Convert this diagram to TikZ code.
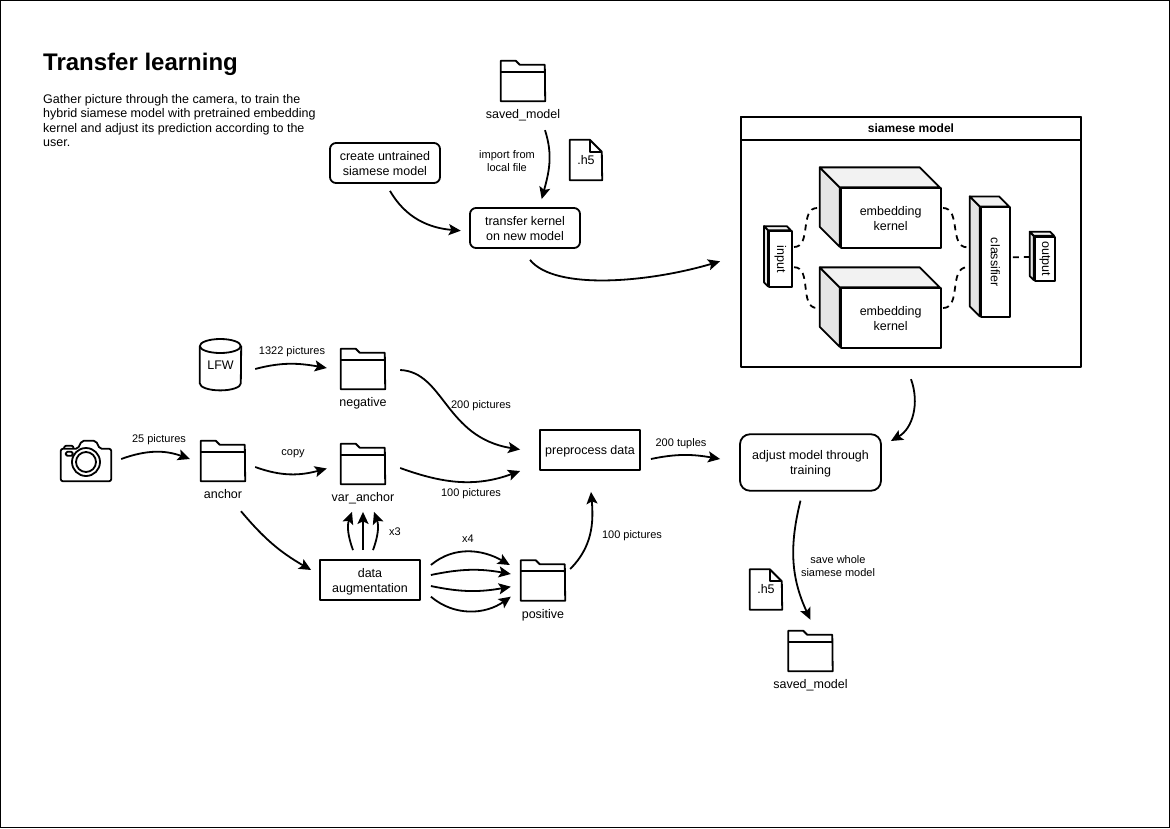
\documentclass[tikz,border=0pt]{standalone}
\usepackage{fontspec}
\setmainfont{Liberation Sans}
\usetikzlibrary{arrows.meta, positioning}

\tikzset{
    >={Stealth[length=12pt, width=11pt, inset=2.5pt]},
    conn/.style={black, line width=1.8pt, ->},
    link/.style={black, line width=1.8pt, dash pattern=on 6pt off 5pt},
    outline/.style={black, line width=1.8pt, line join=round},
    mainfont/.style={font=\fontsize{12.5}{15}\selectfont},
    smallfont/.style={font=\fontsize{11}{13}\selectfont},
    caption/.style={mainfont, inner sep=0pt, text height=9pt, text depth=3pt},
    edgelabel/.style={smallfont, inner sep=0pt, align=center},
    facebox/.style={outline, draw, fill=white, mainfont, align=center, inner sep=0pt},
    stepbox/.style={facebox, text depth=0pt},
    roundbox/.style={stepbox, rounded corners=6pt},
    hidden/.style={inner sep=0pt, mainfont},
    cubeface/.style={facebox}
}

\newcommand{\folderbox}[3]{
    \node[hidden, minimum width=44, minimum height=40] (#1) at (#2) {};
    \draw[outline] (#1.south west) -- (#1.north west) -- ++(15,0) -- ++(4,-4) -- ++(25,0) -- (#1.south east) -- cycle;
    \draw[outline] ([yshift=-11pt]#1.north west) -- ([yshift=-11pt]#1.north east);
    \node[caption, below=8.5pt of #1] (#1text) {#3};
}
\newcommand{\docbox}[2]{
    \node[hidden, minimum width=32, minimum height=40] (#1) at (#2) {.h5};
    \draw[outline] (#1.south west) -- (#1.north west) -- ++(20,0) -- ++(12,-12) -- (#1.south east) -- cycle;
    \draw[outline] ([xshift=20pt]#1.north west) -- ++(0,-12) -- ++(12,0);
}
\newcommand{\cubebox}[6]{
    \node[cubeface, minimum width=#3, minimum height=#4] (#1) at (#2) {#6};
    \draw[outline, fill=black!10] (#1.north west) -- ++(-#5,#5) -- ++(0,-#4) -- ++(#5,-#5) -- cycle;
    \draw[outline, fill=black!5] (#1.north west) -- ++(-#5,#5) -- ++(#3,0) -- ++(#5,-#5) -- cycle;
}

\begin{document}
\begin{tikzpicture}[x=1pt, y=1pt]
    \useasboundingbox (0,0) rectangle (1170,-828);
    \draw[black, line width=1.5pt] (0.5,-0.5) rectangle (1169.5,-827.5);

    \node[hidden, anchor=west, font=\fontsize{24}{28}\selectfont\bfseries] (title) at (43,-64) {Transfer learning};
    \node[hidden, anchor=north west, align=left, font=\fontsize{12.5}{14.5}\selectfont] (intro) at (43,-94) {Gather picture through the camera, to train the\\hybrid siamese model with pretrained embedding\\kernel and adjust its prediction according to the\\user.};

    \folderbox{savedtop}{523,-81}{saved\_model}
    \docbox{doctop}{586,-160}
    \node[roundbox, minimum width=110, minimum height=40] (create) at (385,-163) {create untrained\\siamese model};
    \node[roundbox, minimum width=110, minimum height=40] (transfer) at (525,-228) {transfer kernel\\on new model};

    \node[outline, draw, minimum width=340, minimum height=250] (model) at (911,-242.3) {};
    \node[outline, draw, font=\fontsize{12}{14}\selectfont\bfseries, minimum width=340, minimum height=23, inner sep=0pt] (modelhead) at (911,-128.7) {siamese model};
    \begin{scope}[cubeface/.append style={text depth=0pt}]
        \cubebox{kernelone}{890.7,-218}{100}{59.5}{20}{embedding\\kernel}
        \cubebox{kerneltwo}{890.7,-318}{100}{59.5}{20}{embedding\\kernel}
    \end{scope}
    \cubebox{input}{780.3,-259.2}{22.7}{56.3}{4}{\rotatebox{-90}{input}}
    \cubebox{classifier}{995.3,-262.3}{29.3}{110}{10}{\rotatebox{-90}{classifier}}
    \cubebox{output}{1044.8,-258.8}{20.3}{44.3}{4}{\rotatebox{-90}{output}}

    \draw[link] ([shift={(1.5,12.2)}]input.east) to[out=0, in=180] ([shift={(-22.7,10)}]kernelone.west);
    \draw[link] ([shift={(1.5,-8)}]input.east) to[out=0, in=180] ([shift={(-22.7,10)}]kerneltwo.west);
    \draw[link] ([shift={(1.5,10)}]kernelone.east) to[out=0, in=180] ([shift={(-12.7,15)}]classifier.west);
    \draw[link] ([shift={(1.5,10)}]kerneltwo.east) to[out=0, in=180] ([shift={(-12.7,-5)}]classifier.west);
    \draw[link] ([shift={(2,5)}]classifier.east) -- ([shift={(-4.7,1.8)}]output.west);

    \node[hidden, minimum width=41, minimum height=51] (lfw) at (220.5,-364.7) {LFW};
    \draw[outline] ([yshift=-7pt]lfw.north west) arc[start angle=180, end angle=-180, x radius=20.5, y radius=7];
    \draw[outline] ([yshift=-7pt]lfw.north west) -- ([yshift=7pt]lfw.south west) arc[start angle=180, end angle=360, x radius=20.5, y radius=7] -- ([yshift=-7pt]lfw.north east);

    \node[hidden, minimum width=50, minimum height=40] (camera) at (86,-461) {};
    \draw[outline, rounded corners=2pt] (camera.south west) -- ([yshift=-8pt]camera.north west) -- ++(17,0) -- ++(4,8) -- ++(14,0) -- ++(4,-8) -- ([yshift=-8pt]camera.north east) -- (camera.south east) -- cycle;
    \draw[outline, rounded corners=1pt] ([shift={(3,-8)}]camera.north west) -- ++(1,3) -- ++(8,0) -- ++(1,-3);
    \draw[outline] ([yshift=-1pt]camera.center) circle (14pt);
    \draw[outline] ([yshift=-1pt]camera.center) circle (10pt);
    \draw[outline, rounded corners=1.5pt] ([shift={(5,-11)}]camera.north west) rectangle ++(7,-4);

    \folderbox{anchor}{223,-461}{anchor}
    \folderbox{negative}{363,-369}{negative}
    \folderbox{varanchor}{363,-464}{var\_anchor}
    \folderbox{positive}{543,-580.5}{positive}
    \folderbox{savedbottom}{810.5,-651}{saved\_model}
    \docbox{docbottom}{766,-589.5}

    \node[stepbox, minimum width=100, minimum height=40] (augmentation) at (370,-580) {data\\augmentation};
    \node[stepbox, minimum width=100, minimum height=40] (preprocess) at (590,-450) {preprocess data};
    \node[roundbox, rounded corners=10pt, minimum width=141, minimum height=56.5] (adjust) at (810.5,-462.5) {adjust model through\\training};

    \draw[conn] ([shift={(10,2)}]camera.east) to[out=20, in=160] ([shift={(-11,2)}]anchor.west);
    \draw[conn] ([shift={(14,-4.3)}]lfw.east) to[out=15, in=170] ([shift={(-14,1)}]negative.west);
    \draw[conn] ([shift={(10,-6)}]anchor.east) to[out=-20, in=195] ([shift={(-14,-4.5)}]varanchor.west);
    \draw[conn] ([shift={(18,-30)}]anchor.south) to[out=-50, in=150] ([shift={(-8,10)}]augmentation.west);
    \draw[conn] ([shift={(-17,9)}]augmentation.north) to[out=110, in=-110] ([shift={(-11,-27.7)}]varanchor.south);
    \draw[conn] ([shift={(-7,9)}]augmentation.north) -- ([shift={(0,-27.7)}]varanchor.south);
    \draw[conn] ([shift={(3,9)}]augmentation.north) to[out=70, in=-70] ([shift={(11,-27.7)}]varanchor.south);
    \draw[conn] ([shift={(10,15)}]augmentation.east) to[out=40, in=150] ([shift={(-11,15.5)}]positive.west);
    \draw[conn] ([shift={(10,5)}]augmentation.east) to[out=12, in=170] ([shift={(-10,6.5)}]positive.west);
    \draw[conn] ([shift={(10,-6)}]augmentation.east) to[out=-12, in=190] ([shift={(-10,-6.2)}]positive.west);
    \draw[conn] ([shift={(10,-16.7)}]augmentation.east) to[out=-40, in=215] ([shift={(-10,-16.2)}]positive.west);
    \draw[conn] ([shift={(5,11.5)}]positive.east) to[out=45, in=-85] ([shift={(1,-21)}]preprocess.south);
    \draw[conn] ([shift={(15,-1)}]negative.east) .. controls +(44,-2) and +(-75,12) .. ([shift={(-19,0.5)}]preprocess.west);
    \draw[conn] ([shift={(15,-4)}]varanchor.east) to[out=-20, in=200] ([shift={(-19,-21)}]preprocess.west);
    \draw[conn] ([shift={(10,-9)}]preprocess.east) to[out=12, in=170] ([shift={(-19,3.5)}]adjust.west);
    \draw[conn] ([shift={(5,-7)}]create.south) to[out=-60, in=175] ([shift={(-8.3,-2.7)}]transfer.west);
    \draw[conn] ([shift={(22,-29)}]savedtop.south) to[out=-72, in=75] ([shift={(16.7,8)}]transfer.north);
    \draw[conn] ([shift={(5,-11)}]transfer.south) .. controls +(25,-31) and +(-71,-21) .. ([shift={(-20,-19)}]model.west);
    \draw[conn] ([shift={(0,-11)}]model.south) to[out=-70, in=30] ([shift={(9,21.5)}]adjust.east);
    \draw[conn] ([shift={(-10,-9)}]adjust.south) to[out=-104, in=115] ([shift={(0,11)}]savedbottom.north);

    \node[edgelabel] (labelcamera) at (159,-440) {25 pictures};
    \node[edgelabel] (labellfw) at (292,-352) {1322 pictures};
    \node[edgelabel] (labelcopy) at (293,-454) {copy};
    \node[edgelabel] (labelnegative) at (481,-406) {200 pictures};
    \node[edgelabel] (labelvaranchor) at (471,-494) {100 pictures};
    \node[edgelabel] (labelpositive) at (632,-536) {100 pictures};
    \node[edgelabel] (labeltuples) at (681,-444) {200 tuples};
    \node[edgelabel] (labelthree) at (395,-532) {x3};
    \node[edgelabel] (labelfour) at (468,-539) {x4};
    \node[edgelabel] (labelimport) at (507,-161) {import from\\local file};
    \node[edgelabel] (labelsave) at (838,-566) {save whole\\siamese model};
\end{tikzpicture}
\end{document}
